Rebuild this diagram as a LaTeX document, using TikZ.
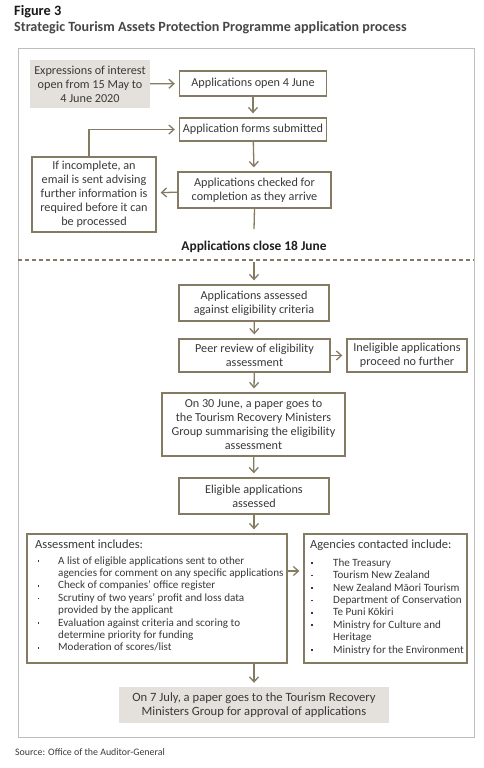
\documentclass[tikz,border=0pt]{standalone}
\usepackage{fontspec}
\setmainfont{Carlito}
\usetikzlibrary{arrows.meta}
\definecolor{brd}{HTML}{857B62}
\definecolor{gfill}{HTML}{E4E1DC}
\definecolor{txt}{HTML}{3A3A3A}
\definecolor{frm}{HTML}{BDBDBD}
\newcommand\bfont{\fontsize{12.2}{14}\selectfont}
\newcommand\hfont{\fontsize{12.5}{14}\selectfont}
\newcommand\lfont{\fontsize{11.1}{12.4}\selectfont}
\newcommand\bdot{\raisebox{2.2pt}{\rule{1.6pt}{1.6pt}}}
\begin{document}
\begin{tikzpicture}[x=1pt,y=-1pt,
  box/.style={draw=brd, line width=1.3pt, fill=white, align=center, inner sep=0pt, text=txt, font=\bfont},
  gbox/.style={fill=gfill, align=center, inner sep=0pt, text=txt, font=\bfont},
  arr/.style={draw=brd, line width=1.3pt, -{Straight Barb[length=5pt,width=9pt,line width=1.3pt]}, shorten >=4pt},
  ln/.style={draw=brd, line width=1.3pt},
  lst/.style={anchor=north west, inner sep=0pt, align=left, text=txt, font=\lfont}]
\useasboundingbox (0,0) rectangle (484,768);
\fill[white] (0,0) rectangle (484,768);
% titles
\node[anchor=base west, inner sep=0pt, font=\bfseries\fontsize{14.3}{16}\selectfont, text=black!90] (fig) at (14,16) {Figure 3};
\node[anchor=base west, inner sep=0pt, font=\bfseries\fontsize{14.1}{16}\selectfont, text=black!72] (ttl) at (14,32) {Strategic Tourism Assets Protection Programme application process};
% frame
\draw[frm, line width=0.9pt] (18,48) rectangle (474,737);
% boxes
\node[gbox, minimum width=120pt, minimum height=48pt] (expr) at (90,84) {Expressions of interest\\open from 15 May to\\4 June 2020};
\node[box, minimum width=147pt, minimum height=25pt] (open) at (253,83.5) {Applications open 4 June};
\node[box, minimum width=147pt, minimum height=23pt] (forms) at (253,129.5) {Application forms submitted};
\node[box, minimum width=153pt, minimum height=36pt] (checked) at (254.5,190) {Applications checked for\\completion as they arrive};
\node[box, minimum width=124pt, minimum height=75pt] (incomplete) at (94,194.5) {If incomplete, an\\email is sent advising\\further information is\\required before it can\\be processed};
\node[inner sep=0pt, font=\bfseries\fontsize{13.4}{15}\selectfont, text=black!88] (close) at (254,247) {Applications close 18 June};
\coordinate (cend) at (254,229);
\draw[brd, line width=1.2pt, dash pattern=on 4pt off 3pt] (18,260) -- (474,260);
\coordinate (dstart) at (254,262);
\node[box, minimum width=150pt, minimum height=36pt] (assessed) at (254,303) {Applications assessed\\against eligibility criteria};
\node[box, minimum width=151pt, minimum height=33pt] (peer) at (254.5,355.5) {Peer review of eligibility\\assessment};
\node[box, minimum width=120pt, minimum height=33pt] (inelig) at (407,355.5) {Ineligible applications\\proceed no further};
\node[box, minimum width=183pt, minimum height=63pt] (june30) at (253.5,424.5) {On 30 June, a paper goes to\\the Tourism Recovery Ministers\\Group summarising the eligibility\\assessment};
\node[box, minimum width=150pt, minimum height=36pt] (eligible) at (254,496) {Eligible applications\\assessed};
\node[box, minimum width=260pt, minimum height=129pt] (assess) at (157,598.5) {};
\node[box, minimum width=163pt, minimum height=129pt] (agencies) at (385.5,598.5) {};
\node[gbox, minimum width=270pt, minimum height=36pt, font=\fontsize{12.6}{14}\selectfont] (final) at (254,705) {On 7 July, a paper goes to the Tourism Recovery\\Ministers Group for approval of applications};
% list texts
\node[lst] (assesstxt) at (35,539.5) {{\hfont Assessment includes:}\\[6pt]
\begin{tabular}{@{}p{23pt}@{}l@{}}
\hspace*{2.5pt}\bdot & A list of eligible applications sent to other\\
 & agencies for comment on any specific applications\\
\hspace*{2.5pt}\bdot & Check of companies' office register\\
\hspace*{2.5pt}\bdot & Scrutiny of two years' profit and loss data\\
 & provided by the applicant\\
\hspace*{2.5pt}\bdot & Evaluation against criteria and scoring to\\
 & determine priority for funding\\
\hspace*{2.5pt}\bdot & Moderation of scores/list
\end{tabular}};
\node[lst] (agtxt) at (310,539.5) {{\hfont Agencies contacted include:}\\[6pt]
\begin{tabular}{@{}p{23pt}@{}l@{}}
\hspace*{1pt}\bdot & The Treasury\\
\hspace*{1pt}\bdot & Tourism New Zealand\\
\hspace*{1pt}\bdot & New Zealand Māori Tourism\\
\hspace*{1pt}\bdot & Department of Conservation\\
\hspace*{1pt}\bdot & Te Puni Kōkiri\\
\hspace*{1pt}\bdot & Ministry for Culture and\\
 & Heritage\\
\hspace*{1pt}\bdot & Ministry for the Environment
\end{tabular}};
% connectors
\coordinate (aa) at (0,571);
\draw[arr] (expr) -- (open);
\draw[arr] (open) -- (forms);
\draw[arr] (forms) -- (checked);
\draw[arr] (checked) -- (incomplete);
\draw[arr] ([xshift=-5pt]incomplete.north) |- (forms.west);
\draw[ln] (checked.south) -- (cend);
\draw[arr] (dstart) -- (assessed);
\draw[arr] (assessed) -- (peer);
\draw[arr] (peer) -- (inelig);
\draw[arr] (peer) -- (june30);
\draw[arr] (june30) -- (eligible);
\draw[arr] (eligible.south) -- (eligible.south |- assess.north);
\draw[arr] (assess.east |- aa) -- (agencies.west |- aa);
\draw[arr] (assess.south -| final.north) -- (final);
% source
\node[anchor=base west, inner sep=0pt, font=\fontsize{9.9}{11}\selectfont, text=txt] (src) at (15,755) {Source: Office of the Auditor-General};
\end{tikzpicture}
\end{document}
